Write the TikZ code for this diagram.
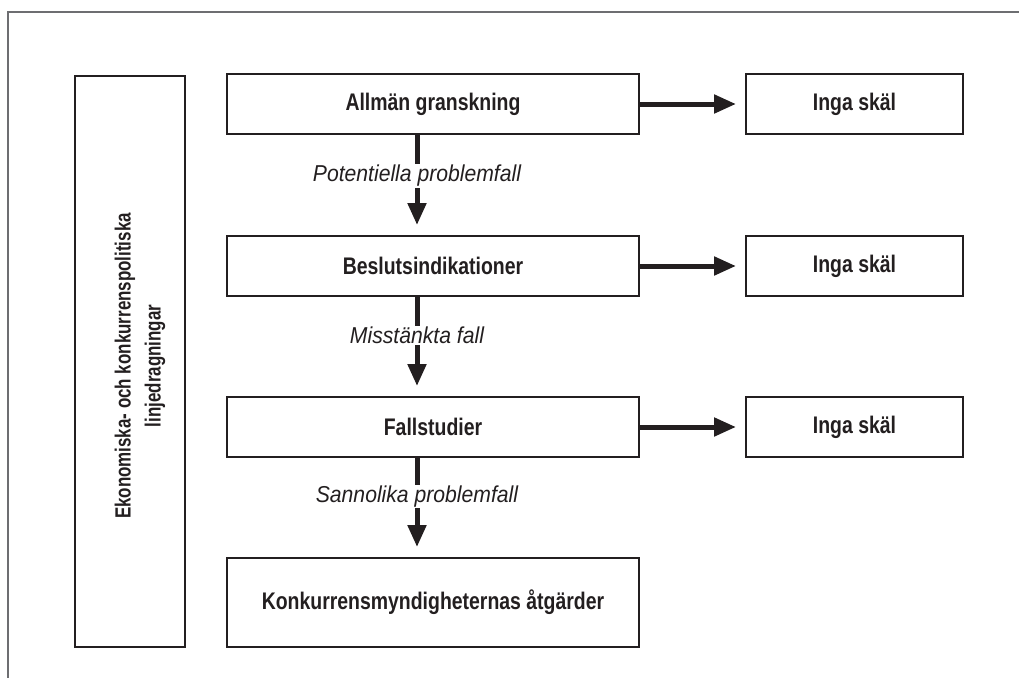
\documentclass[tikz,border=0pt]{standalone}
\usepackage{fontspec}
\setmainfont{Liberation Sans}
\newfontfamily\condsans{Liberation Sans}[FakeStretch=0.81]
\newfontfamily\sidesans{Liberation Sans}[FakeStretch=0.77]
\newfontfamily\labelsans{Liberation Sans}[FakeStretch=0.92]
\usetikzlibrary{arrows.meta}
\definecolor{ink}{HTML}{231F20}
\definecolor{framegray}{HTML}{6D6E71}

\begin{document}
\begin{tikzpicture}[x=1pt,y=-1pt,
  box/.style={draw=ink, line width=2pt, fill=white, inner sep=0pt,
    text=ink, font=\condsans\bfseries\fontsize{24}{27}\selectfont},
  mainbox/.style={box, minimum width=412pt, minimum height=60pt},
  sidebox/.style={box, minimum width=217pt, minimum height=60pt},
  flow/.style={draw=ink, line width=5pt,
    -{Triangle[length=22pt,width=18pt]}},
  caselabel/.style={fill=white, inner sep=1pt, text=ink,
    font=\labelsans\itshape\fontsize{23}{26}\selectfont}
]
\useasboundingbox (0,0) rectangle (1019,678);

% page frame
\draw[framegray, line width=1.2pt] (1019,12) -| (8,678);

% policy guidelines column
\node[box, minimum width=110pt, minimum height=571pt] (policy) at (130,361.5) {};
\node[rotate=90, align=center, text=ink, inner sep=0pt,
  font=\sidesans\bfseries\fontsize{22}{30}\selectfont]
  (policytext) at ([xshift=10pt,yshift=-4.5pt]policy.center)
  {Ekonomiska- och konkurrenspolitiska\\linjedragningar};

% screening stages
\node[mainbox] (stage1) at (433,104)   {Allmän granskning};
\node[mainbox] (stage2) at (433,266)   {Beslutsindikationer};
\node[mainbox] (stage3) at (433,427)   {Fallstudier};
\node[mainbox, minimum height=89pt] (stage4) at (433,602.5)
  {Konkurrensmyndigheternas åtgärder};

% dismissed cases
\node[sidebox] (none1) at (854.5,104) {Inga skäl};
\node[sidebox] (none2) at (854.5,266) {Inga skäl};
\node[sidebox] (none3) at (854.5,427) {Inga skäl};

% sideways exits
\draw[flow, shorten >=9pt] (stage1.east) -- (none1.west);
\draw[flow, shorten >=9pt] (stage2.east) -- (none2.west);
\draw[flow, shorten >=9pt] (stage3.east) -- (none3.west);

% downward flow with case labels
\draw[flow, shorten >=10pt] ([xshift=-16pt]stage1.south) -- ([xshift=-16pt]stage2.north)
  node[caselabel, pos=0.41] {Potentiella problemfall};
\draw[flow, shorten >=10pt] ([xshift=-16pt]stage2.south) -- ([xshift=-16pt]stage3.north)
  node[caselabel, pos=0.39] {Misstänkta fall};
\draw[flow, shorten >=10pt] ([xshift=-16pt]stage3.south) -- ([xshift=-16pt]stage4.north)
  node[caselabel, pos=0.39] {Sannolika problemfall};
\end{tikzpicture}
\end{document}
